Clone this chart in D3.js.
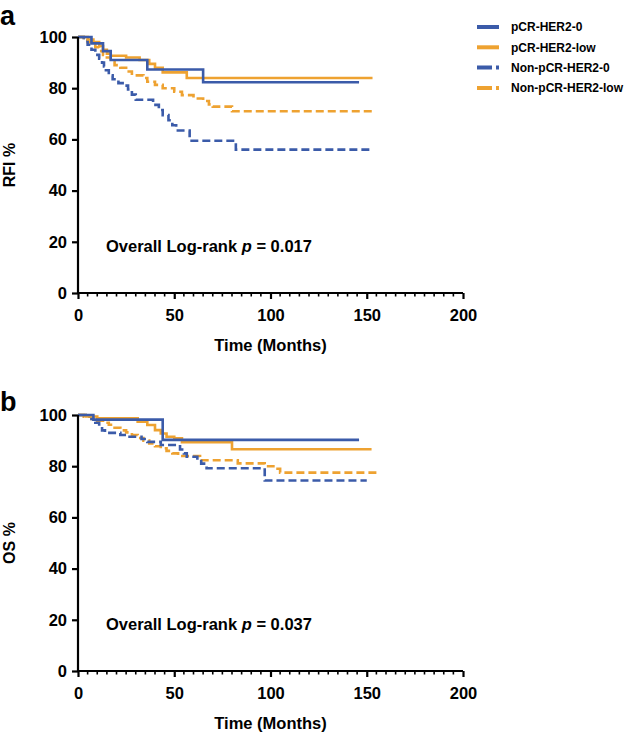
<!DOCTYPE html>
<html><head><meta charset="utf-8">
<script src="https://cdn.jsdelivr.net/npm/d3@7"></script>
<style>
body{margin:0;background:#fff}
svg{display:block}
text{font-family:"Liberation Sans",Arial,Helvetica,sans-serif;font-weight:bold;fill:#000}
</style>
</head><body>
<svg id="chart" width="627" height="736"></svg>
<script>
// ---- data ----
const seriesNames = ["pCR-HER2-0", "pCR-HER2-low", "Non-pCR-HER2-0", "Non-pCR-HER2-low"];
const xTicks = [0, 50, 100, 150, 200];
const yTicks = [0, 20, 40, 60, 80, 100];
const panelLabels = ["a", "b"];
const yTitles = ["RFI %", "OS %"];
const pValues = ["0.017", "0.037"];

// RFI (panel a): [month, percent] step points; last point = end of follow-up
const rfiPcrHer2Zero = [[0,100],[7,97.5],[13,94.5],[17,91],[36,87.3],[65,82.3],[146,82.3]];
const rfiPcrHer2Low = [[0,100],[5,99],[8,98],[11,96.5],[13,95],[15,93.5],[17,92.7],[25,92],[32,91],[37,89.5],[40,88],[44,86.2],[56.5,84],[153,84]];
const rfiNonPcrHer2Zero = [[0,100],[3,98.5],[5,97],[7,95],[9,93],[11,91.5],[12.5,90],[13.5,88.5],[14.5,87],[16,85],[18,83.5],[21,82],[24,81],[26,79.5],[28,77.5],[30,75.5],[39,73.5],[42,71.5],[44,69.5],[47,67.5],[49,65.5],[51,63.5],[58,59.5],[82,56],[152.5,56]];
const rfiNonPcrHer2Low = [[0,100],[3,99],[5,98],[7,97],[9,96],[11,94.5],[13,93],[15,92],[17,90.5],[19,89],[22,88],[25,86.5],[28,85],[34,84],[36,82.5],[40,81.3],[44,80],[50,78.6],[54,77.3],[60,76],[65,75],[68,73.7],[70,72.8],[80,71],[154,71]];

// OS (panel b)
const osPcrHer2Zero = [[0,100],[8,98.2],[44,90.3],[146,90.3]];
const osPcrHer2Low = [[0,100],[4,99.4],[10,98.7],[31,97.4],[36,96.1],[40,94.1],[43,92.8],[46,91.5],[50,90.9],[54,89.4],[80,86.6],[152.5,86.6]];
const osNonPcrHer2Zero = [[0,100],[4,99.4],[7,98.5],[9,97],[11,95.5],[12.5,94],[14,93],[22,92.2],[25,91.5],[33,90.6],[36,89.5],[43,88.3],[53,86.5],[55,85],[56.5,83.7],[62,82.5],[64,81],[66.8,79.2],[97,74.4],[150,74.4]];
const osNonPcrHer2Low = [[0,100],[3,99.3],[7,98.5],[10,97.8],[13,97],[16,96.2],[19,95],[22,94],[25,93.2],[28,92.2],[31,91],[34,90],[37,88.9],[40,87.8],[43,87],[46,86],[49,85],[52,84],[63.4,82.3],[83,81.1],[97,80],[101.5,79],[105,77.5],[156,77.5]];

// ---- style ----
const seriesColors = ["#3b5ba9", "#eea231", "#3b5ba9", "#eea231"];
const seriesDashed = [false, false, true, true];

const panels = [
  {series: [rfiPcrHer2Zero, rfiPcrHer2Low, rfiNonPcrHer2Zero, rfiNonPcrHer2Low], top: 37},
  {series: [osPcrHer2Zero, osPcrHer2Low, osNonPcrHer2Zero, osNonPcrHer2Low], top: 415}
];

const svg = d3.select("#chart");
const x = d3.scaleLinear().domain([0, 200]).range([78, 463]);
const drawOrder = [3, 2, 1, 0];

panels.forEach((p, pi) => {
  const y = d3.scaleLinear().domain([0, 100]).range([p.top + 256, p.top]);
  const g = svg.append("g");

  // curves
  const line = d3.line().x(d => x(d[0])).y(d => y(d[1])).curve(d3.curveStepAfter);
  drawOrder.forEach(si => {
    g.append("path")
      .attr("d", line(p.series[si]))
      .attr("fill", "none")
      .attr("stroke", seriesColors[si])
      .attr("stroke-width", 2.6)
      .attr("stroke-dasharray", seriesDashed[si] ? "8 4" : null);
  });

  // y axis
  const ya = g.append("g").attr("transform", `translate(${x(0)},0)`)
    .call(d3.axisLeft(y).tickValues(yTicks).tickSize(6).tickPadding(5));
  ya.select(".domain").attr("stroke-width", 2.2).attr("d", `M0,${y(0)}V${y(100)}`);
  ya.selectAll(".tick line").attr("stroke-width", 2.2);
  ya.selectAll("text").style("font-size", "16.5px").style("font-family", '"Liberation Sans",Arial,sans-serif').style("font-weight", "bold");

  // x axis minor ticks
  const minor = d3.range(0, 201, 5).filter(v => v % 50 !== 0);
  g.append("g").selectAll("line").data(minor).join("line")
    .attr("x1", d => x(d)).attr("x2", d => x(d))
    .attr("y1", y(0)).attr("y2", y(0) + 3.5)
    .attr("stroke", "#000").attr("stroke-width", 1.6);

  // x axis
  const xa = g.append("g").attr("transform", `translate(0,${y(0)})`)
    .call(d3.axisBottom(x).tickValues(xTicks).tickSize(6).tickPadding(10));
  xa.select(".domain").attr("stroke-width", 2.2).attr("d", `M${x(0)},0H${x(200)}`);
  xa.selectAll(".tick line").attr("stroke-width", 2.2);
  xa.selectAll("text").style("font-size", "16.5px").style("font-family", '"Liberation Sans",Arial,sans-serif').style("font-weight", "bold");

  // x title
  g.append("text").attr("x", (x(0) + x(200)) / 2).attr("y", y(0) + 58)
    .attr("text-anchor", "middle").style("font-size", "16.5px").text("Time (Months)");

  // y title
  g.append("text").attr("transform", `translate(15,${(y(0) + y(100)) / 2}) rotate(-90)`)
    .attr("text-anchor", "middle").style("font-size", "16px").text(yTitles[pi]);

  // panel label
  g.append("text").attr("x", 0).attr("y", pi === 0 ? 25 : 411)
    .style("font-size", "27px").text(panelLabels[pi]);

  // p value annotation
  const t = g.append("text").attr("x", 106).attr("y", y(20) + 10).style("font-size", "16.5px");
  t.append("tspan").text("Overall Log-rank ");
  t.append("tspan").style("font-style", "italic").text("p");
  t.append("tspan").text(" = " + pValues[pi]);
});

// legend
const leg = svg.append("g");
seriesNames.forEach((name, i) => {
  const yy = 27 + i * 20.3;
  leg.append("line").attr("x1", 477).attr("x2", 499).attr("y1", yy).attr("y2", yy)
    .attr("stroke", seriesColors[i]).attr("stroke-width", 4)
    .attr("stroke-dasharray", seriesDashed[i] ? "15 4" : null);
  leg.append("text").attr("x", 511).attr("y", yy + 4.3).style("font-size", "12px").text(name);
});
</script>
</body></html>
